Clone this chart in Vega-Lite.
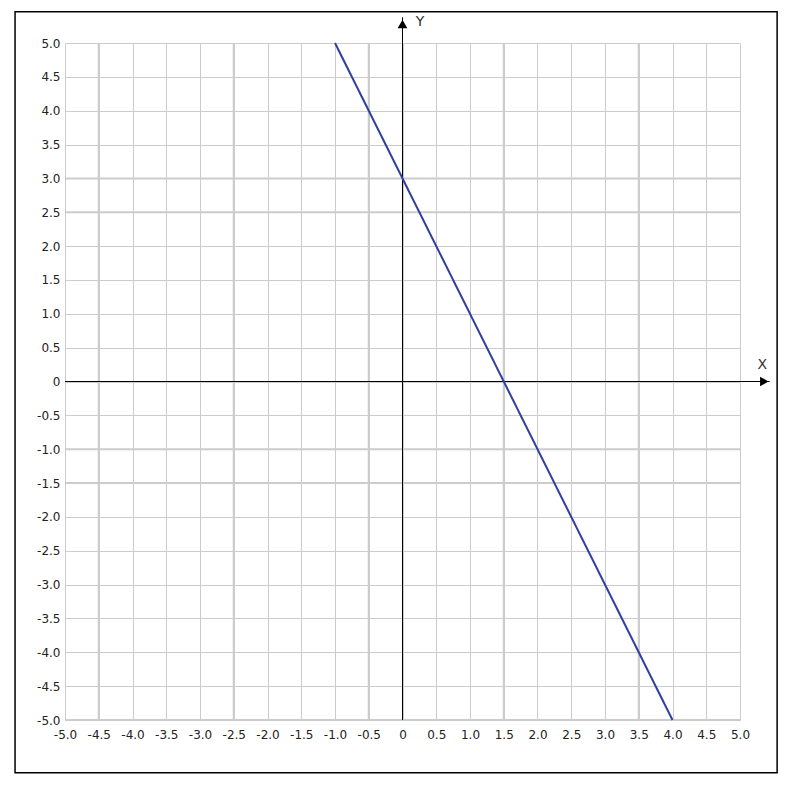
{
  "$schema": "https://vega.github.io/schema/vega-lite/v6.json",
  "width": 675,
  "height": 677,
  "autosize": {"type": "none"},
  "padding": {"left": 65, "top": 43, "right": 51, "bottom": 65},
  "background": "white",
  "config": {
    "view": {"stroke": null}
  },
  "datasets": {
    "line": [{"x": -1, "y": 5}, {"x": 4, "y": -5}],
    "thickV": [{"x": -4.5}, {"x": -2.5}, {"x": -0.5}, {"x": 1.5}, {"x": 3.5}],
    "thickH": [{"y": 3.0}, {"y": 2.5}, {"y": -1.0}, {"y": -1.5}, {"y": -5.0}],
    "axesLines": [
      {"name": "X", "x": -5, "x2": 5.44, "y": 0, "y2": 0},
      {"name": "Y", "x": 0, "x2": 0, "y": -5, "y2": 5.38}
    ],
    "arrows": [
      {"name": "X", "x": 5.36, "y": 0, "shape": "triangle-right"},
      {"name": "Y", "x": 0, "y": 5.28, "shape": "triangle-up"}
    ],
    "labels": [
      {"name": "X", "x": 5.33, "y": 0.24},
      {"name": "Y", "x": 0.26, "y": 5.31}
    ],
    "frame": [{"x": -5.74, "x2": 5.55, "y": 5.46, "y2": -5.78}]
  },
  "encoding": {
    "x": {
      "field": "x", "type": "quantitative",
      "scale": {"domain": [-5, 5], "nice": false, "zero": false},
      "axis": {
        "title": null,
        "values": [-5, -4.5, -4, -3.5, -3, -2.5, -2, -1.5, -1, -0.5, 0, 0.5, 1, 1.5, 2, 2.5, 3, 3.5, 4, 4.5, 5],
        "labelExpr": "datum.value == 0 ? '0' : (datum.value < 0 ? '-' : '') + format(abs(datum.value), '.1f')",
        "grid": true, "gridColor": "#cccccc", "gridWidth": 1,
        "domain": false, "ticks": false,
        "labelFont": "DejaVu Sans", "labelFontSize": 12, "labelColor": "#222222",
        "labelPadding": 9, "labelFlush": false, "labelOverlap": false, "labelBound": false
      }
    },
    "y": {
      "field": "y", "type": "quantitative",
      "scale": {"domain": [-5, 5], "nice": false, "zero": false},
      "axis": {
        "title": null,
        "values": [-5, -4.5, -4, -3.5, -3, -2.5, -2, -1.5, -1, -0.5, 0, 0.5, 1, 1.5, 2, 2.5, 3, 3.5, 4, 4.5, 5],
        "labelExpr": "datum.value == 0 ? '0' : (datum.value < 0 ? '-' : '') + format(abs(datum.value), '.1f')",
        "grid": true, "gridColor": "#cccccc", "gridWidth": 1,
        "domain": false, "ticks": false,
        "labelFont": "DejaVu Sans", "labelFontSize": 12, "labelColor": "#222222",
        "labelPadding": 5, "labelFlush": false, "labelOverlap": false, "labelBound": false
      }
    }
  },
  "layer": [
    {
      "data": {"name": "line"},
      "mark": {"type": "line", "color": "#2d3f9f", "strokeWidth": 2, "opacity": 0}
    },
    {
      "data": {"name": "thickV"},
      "mark": {"type": "rule", "color": "#cccccc", "strokeWidth": 2},
      "encoding": {"y": null}
    },
    {
      "data": {"name": "thickH"},
      "mark": {"type": "rule", "color": "#cccccc", "strokeWidth": 2},
      "encoding": {"x": null}
    },
    {
      "data": {"name": "axesLines"},
      "mark": {"type": "rule", "color": "black", "strokeWidth": 1},
      "encoding": {
        "x2": {"field": "x2"},
        "y2": {"field": "y2"}
      }
    },
    {
      "data": {"name": "line"},
      "mark": {"type": "line", "color": "#2d3f9f", "strokeWidth": 2},
      "encoding": {}
    },
    {
      "data": {"name": "arrows"},
      "mark": {"type": "point", "filled": true, "color": "black", "opacity": 1, "size": 95},
      "encoding": {
        "shape": {"field": "shape", "type": "nominal", "scale": null, "legend": null}
      }
    },
    {
      "data": {"name": "labels"},
      "mark": {"type": "text", "font": "DejaVu Sans", "fontSize": 14, "color": "#333333"},
      "encoding": {
        "text": {"field": "name"}
      }
    },
    {
      "data": {"name": "frame"},
      "mark": {"type": "rect", "fill": null, "fillOpacity": 0, "stroke": "black", "strokeWidth": 1.5},
      "encoding": {
        "x2": {"field": "x2"},
        "y2": {"field": "y2"}
      }
    }
  ]
}
